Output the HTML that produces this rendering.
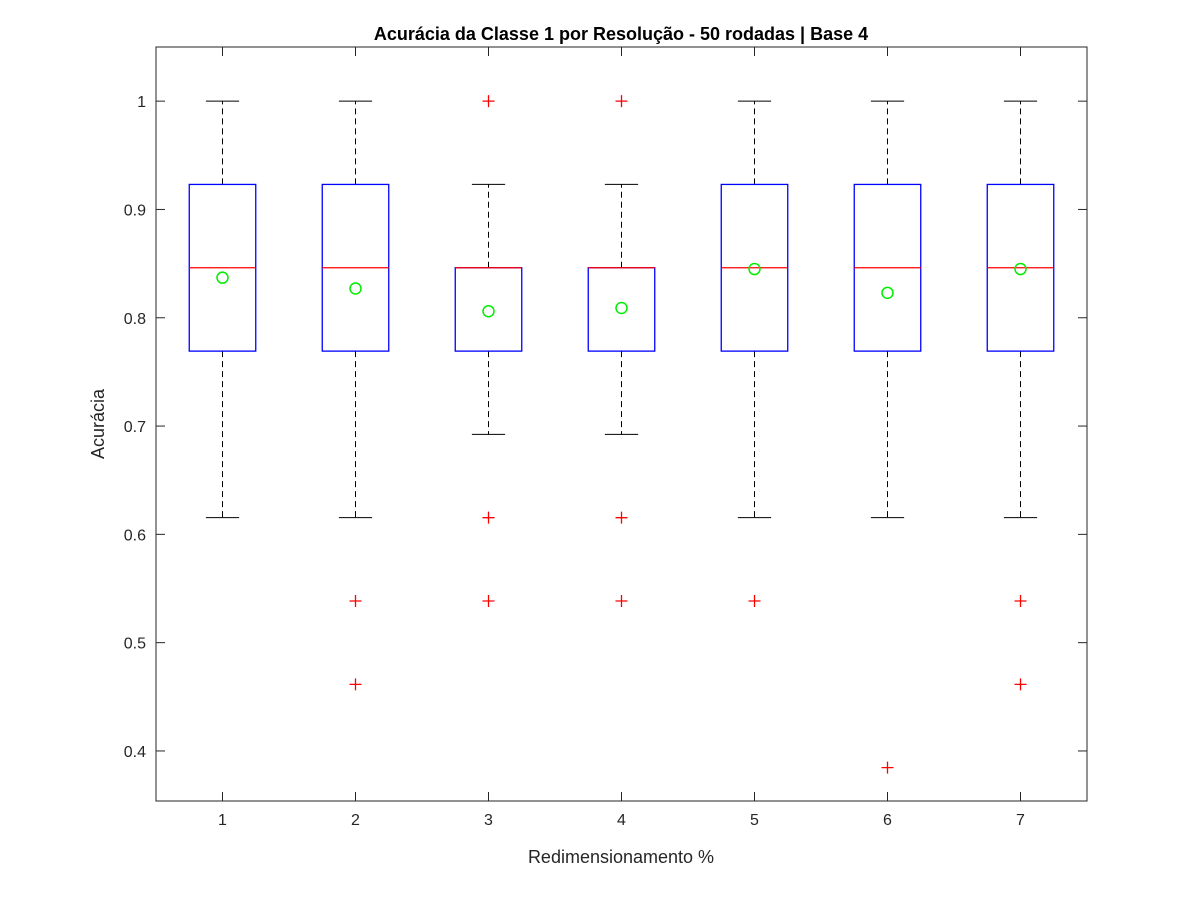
<!DOCTYPE html>
<html><head><meta charset="utf-8"><style>body{margin:0;background:#fff}svg{display:block;font-family:"Liberation Sans",Arial,sans-serif}</style></head>
<body>
<svg id="chart" width="1200" height="900"></svg>
<script>
const categories=[1,2,3,4,5,6,7];
const q1s=[0.7692,0.7692,0.7692,0.7692,0.7692,0.7692,0.7692];
const q3s=[0.9231,0.9231,0.8462,0.8462,0.9231,0.9231,0.9231];
const medians=[0.8462,0.8462,0.8462,0.8462,0.8462,0.8462,0.8462];
const whiskLow=[0.6154,0.6154,0.6923,0.6923,0.6154,0.6154,0.6154];
const whiskHigh=[1,1,0.9231,0.9231,1,1,1];
const means=[0.837,0.827,0.806,0.809,0.845,0.823,0.845];
const outliers=[[],[0.5385,0.4615],[1,0.6154,0.5385],[1,0.6154,0.5385],[0.5385],[0.3846],[0.5385,0.4615]];
const yTicks=[0.4,0.5,0.6,0.7,0.8,0.9,1];
const yTickLabels=["0.4","0.5","0.6","0.7","0.8","0.9","1"];

const L=156,R=1087,T=47,B=801;
const xMin=0.5,xMax=7.5,yMin=0.3538,yMax=1.0500;
const X=v=>L+(v-xMin)/(xMax-xMin)*(R-L);
const Y=v=>B-(v-yMin)/(yMax-yMin)*(B-T);
const svg=document.getElementById('chart');
const NS='http://www.w3.org/2000/svg';
function mk(tag,attrs,parent){const e=document.createElementNS(NS,tag);for(const k in attrs)e.setAttribute(k,attrs[k]);(parent||svg).appendChild(e);return e;}

let bg=mk('rect',{x:L,y:T,width:R-L,height:B-T,fill:'#fff',stroke:'none'});



categories.forEach((c,i)=>{
  const g=mk('g',{});
  
  
  const cx=X(c),hw=X(c+0.25)-X(c),cw=X(c+0.125)-X(c);
  mk('line',{x1:cx,x2:cx,y1:Y(q3s[i]),y2:Y(whiskHigh[i]),stroke:'#000','stroke-dasharray':'6,4'},g);
  mk('line',{x1:cx,x2:cx,y1:Y(q1s[i]),y2:Y(whiskLow[i]),stroke:'#000','stroke-dasharray':'6,4'},g);
  mk('line',{x1:cx-cw,x2:cx+cw,y1:Y(whiskHigh[i]),y2:Y(whiskHigh[i]),stroke:'#000'},g);
  mk('line',{x1:cx-cw,x2:cx+cw,y1:Y(whiskLow[i]),y2:Y(whiskLow[i]),stroke:'#000'},g);
  mk('rect',{x:cx-hw,y:Y(q3s[i]),width:2*hw,height:Y(q1s[i])-Y(q3s[i]),fill:'none',stroke:'#0000ff','stroke-width':1.3},g);
  mk('line',{x1:cx-hw,x2:cx+hw,y1:Y(medians[i]),y2:Y(medians[i]),stroke:'#ff0000','stroke-width':1.3},g);
  outliers[i].forEach(o=>{
    const oy=Y(o);
    const p=mk('path',{d:`M${cx-6},${oy}H${cx+6}M${cx},${oy-6}V${oy+6}`,stroke:'#ff0000','stroke-width':1.3},g);
    
    
  });
  const m=mk('circle',{cx:cx,cy:Y(means[i]),r:5.5,fill:'none',stroke:'#00ee00','stroke-width':1.5},g);
  
  
});

const frame=mk('rect',{x:L,y:T,width:R-L,height:B-T,fill:'none',stroke:'#262626','stroke-width':1});



categories.forEach(c=>{
  const x=X(c);
  mk('line',{x1:x,x2:x,y1:B,y2:B-9,stroke:'#262626'});
  mk('line',{x1:x,x2:x,y1:T,y2:T+9,stroke:'#262626'});
  const t=mk('text',{x:x,y:B+24,'text-anchor':'middle','font-size':16,fill:'#262626'});
  t.textContent=c;
  
  
});
yTicks.forEach((v,i)=>{
  const y=Y(v);
  mk('line',{x1:L,x2:L+9,y1:y,y2:y,stroke:'#262626'});
  mk('line',{x1:R,x2:R-9,y1:y,y2:y,stroke:'#262626'});
  const t=mk('text',{x:L-10,y:y+6,'text-anchor':'end','font-size':16,fill:'#262626'});
  t.textContent=yTickLabels[i];
  
  
});

let t=mk('text',{x:621,y:54-14,'text-anchor':'middle','font-size':18,'font-weight':'bold',fill:'#000'});
t.textContent='Acurácia da Classe 1 por Resolução - 50 rodadas | Base 4';


t=mk('text',{x:621,y:863,'text-anchor':'middle','font-size':18,fill:'#262626'});
t.textContent='Redimensionamento %';


t=mk('text',{x:0,y:0,'text-anchor':'middle','font-size':18,fill:'#262626',transform:'translate(104,424) rotate(-90)'});
t.textContent='Acurácia';


</script>
</body></html>
